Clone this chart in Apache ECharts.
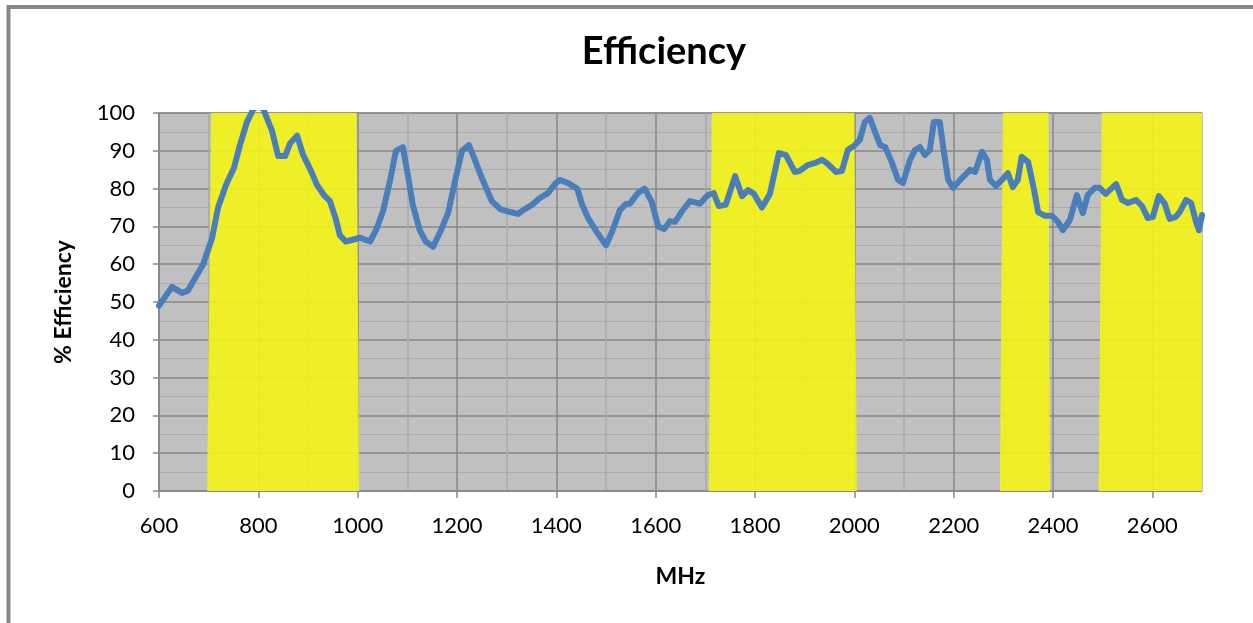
<!DOCTYPE html>
<html>
<head>
<meta charset="utf-8">
<script src="https://cdn.jsdelivr.net/npm/echarts@6/dist/echarts.min.js"></script>
<style>
  html, body { margin: 0; padding: 0; background: #fff; }
  #chart { width: 1253px; height: 623px; }
</style>
</head>
<body>
<div id="chart"></div>
<script>
// frequency (MHz) and measured efficiency (%)
var freqs = [600, 626, 646, 658, 674, 689, 707, 719, 735, 751, 763, 777, 790, 800, 810, 827, 840, 854, 864, 878,
  890, 906, 918, 932, 944, 956, 964, 976, 988, 1005, 1025, 1037, 1051, 1065, 1077, 1091, 1101, 1111, 1125, 1137,
  1152, 1166, 1182, 1196, 1210, 1224, 1236, 1250, 1270, 1287, 1307, 1323, 1333, 1351, 1367, 1383, 1397, 1407, 1423, 1442,
  1452, 1464, 1480, 1500, 1512, 1528, 1540, 1548, 1564, 1578, 1592, 1605, 1617, 1629, 1639, 1653, 1669, 1689, 1705, 1717,
  1727, 1741, 1760, 1774, 1786, 1798, 1814, 1830, 1848, 1862, 1880, 1890, 1906, 1921, 1935, 1947, 1963, 1975, 1987, 2001,
  2011, 2021, 2031, 2044, 2052, 2062, 2076, 2088, 2098, 2112, 2122, 2132, 2142, 2152, 2160, 2172, 2180, 2189, 2199, 2213,
  2223, 2233, 2243, 2257, 2267, 2273, 2285, 2297, 2309, 2319, 2329, 2337, 2350, 2362, 2370, 2384, 2398, 2410, 2420, 2434,
  2448, 2460, 2470, 2484, 2494, 2506, 2527, 2539, 2551, 2567, 2579, 2591, 2601, 2613, 2625, 2635, 2647, 2656, 2668, 2678,
  2688, 2694, 2700];
var efficiency = [49, 54, 52.4, 53, 56.6, 60, 67, 75, 81, 85.5, 91.5, 97.6, 101, 102, 101, 95.5, 88.6, 88.6, 92, 94,
  89, 84.7, 81, 78.3, 76.7, 72, 67.7, 66, 66.4, 67, 66, 69, 74, 82, 90, 91, 83.6, 75.7, 69, 66,
  64.6, 68.5, 73.5, 82, 90, 91.5, 87.6, 82.8, 76.7, 74.6, 73.8, 73.3, 74.3, 75.7, 77.5, 78.8, 81.2, 82.3, 81.5, 80,
  75.7, 72.2, 68.8, 65, 68.5, 74.3, 75.9, 76, 78.8, 80, 76.5, 70, 69.3, 71.4, 71.2, 74, 76.7, 76, 78.3, 78.8,
  75.4, 75.7, 83.3, 78, 79.6, 78.6, 75, 78.6, 89.4, 88.9, 84.4, 84.7, 86.2, 86.8, 87.6, 86.5, 84.4, 84.7, 90.2, 91.5,
  92.9, 97.6, 98.7, 94.2, 91.5, 91, 86.8, 82.3, 81.5, 87.6, 90.2, 91, 88.9, 90.2, 97.6, 97.6, 90, 82.3, 80.2, 82.3,
  83.6, 85, 84.4, 89.7, 87.6, 82.3, 80.7, 82.3, 84.1, 80.4, 82.3, 88.4, 87, 79.6, 73.8, 72.8, 72.8, 71.2, 69, 71.7,
  78.3, 73.5, 78.3, 80.2, 80.2, 78.6, 81.2, 77, 76.2, 77, 75.4, 72.2, 72.5, 78, 76, 72, 72.5, 74, 77, 76.2,
  71.2, 69, 73];

// highlighted bands: [topStart, topEnd, bottomStart, bottomEnd] in MHz
var bands = [
  [705, 998, 697, 1003],
  [1713, 2000, 1707, 2005],
  [2299, 2391, 2293, 2394],
  [2498, 2700, 2492, 2700]
];

var xTicks = [600, 800, 1000, 1200, 1400, 1600, 1800, 2000, 2200, 2400, 2600];

var lineData = freqs.map(function (f, i) { return [f, efficiency[i]]; });

var myChart = echarts.init(document.getElementById('chart'));
myChart.setOption({
  animation: false,
  textStyle: { fontFamily: 'Lato' },
  graphic: [{
    type: 'rect',
    shape: { x: 8.5, y: 7, width: 1400, height: 800 },
    style: { fill: 'none', stroke: '#878787', lineWidth: 4 },
    z: 0
  }],
  title: {
    text: 'Efficiency',
    left: 659,
    textAlign: 'center',
    top: 28,
    textStyle: { fontFamily: 'Lato', fontWeight: 'bold', fontSize: 38, color: '#000' }
  },
  grid: {
    left: 159,
    right: 51,
    top: 113,
    bottom: 132,
    show: true,
    backgroundColor: '#c0c0c0',
    borderColor: '#888',
    borderWidth: 1
  },
  xAxis: {
    type: 'value',
    min: 600,
    max: 2700,
    interval: 200,
    name: 'MHz',
    nameLocation: 'middle',
    nameGap: 74,
    nameTextStyle: { fontFamily: 'Lato', fontWeight: 'bold', fontSize: 23, color: '#000' },
    axisLine: { show: true, lineStyle: { color: '#888', width: 1.5 } },
    axisTick: { show: true, length: 7, lineStyle: { color: '#888', width: 1.5 }, customValues: xTicks },
    axisLabel: { margin: 24, fontSize: 22, color: '#000', customValues: xTicks,
      formatter: function (v) { return String(v); } },
    splitLine: { show: true, lineStyle: { color: '#878787', width: 1.5 } },
    minorTick: { show: false, splitNumber: 2 },
    minorSplitLine: { show: true, lineStyle: { color: '#a9a9a9', width: 1.5 } }
  },
  yAxis: {
    type: 'value',
    min: 0,
    max: 100,
    interval: 10,
    name: '% Efficiency',
    nameLocation: 'middle',
    nameGap: 84,
    nameTextStyle: { fontFamily: 'Lato', fontWeight: 'bold', fontSize: 23, color: '#000' },
    axisLine: { show: true, lineStyle: { color: '#888', width: 1.5 } },
    axisTick: { show: true, length: 6, lineStyle: { color: '#888', width: 1.5 } },
    axisLabel: { margin: 24, fontSize: 22, color: '#000' },
    splitLine: { show: true, lineStyle: { color: '#878787', width: 1.5 } },
    minorTick: { show: false, splitNumber: 2 },
    minorSplitLine: { show: true, lineStyle: { color: '#acacac', width: 1.2 } }
  },
  series: [
    {
      type: 'custom',
      z: 1,
      silent: true,
      clip: true,
      data: bands,
      renderItem: function (params, api) {
        var p1 = api.coord([api.value(0), 100]);
        var p2 = api.coord([api.value(1), 100]);
        var p3 = api.coord([api.value(3), 0]);
        var p4 = api.coord([api.value(2), 0]);
        return {
          type: 'polygon',
          shape: { points: [p1, p2, p3, p4] },
          style: { fill: 'rgba(244,244,22,0.9)' }
        };
      }
    },
    {
      type: 'line',
      z: 3,
      data: lineData,
      symbol: 'none',
      clip: true,
      lineStyle: { color: '#4a7ebb', width: 6, join: 'round', cap: 'round' }
    }
  ]
});
</script>
</body>
</html>
